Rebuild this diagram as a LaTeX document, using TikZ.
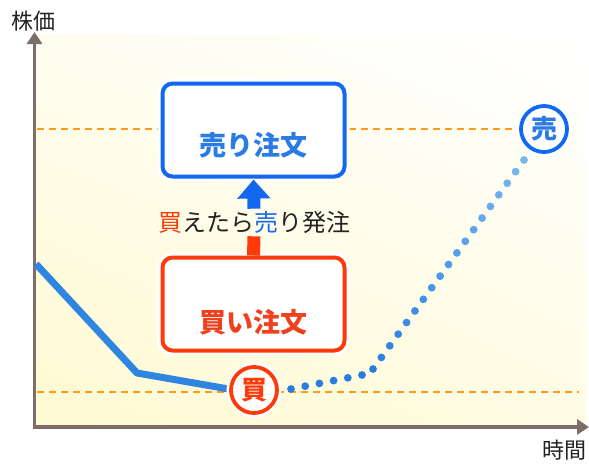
\documentclass[tikz,border=0pt]{standalone}
\usepackage{fontspec}
\newfontfamily\jp{Noto Sans CJK JP}
\usetikzlibrary{arrows.meta,calc,shadings}
\definecolor{axisc}{HTML}{7D6E69}
\definecolor{dashc}{HTML}{FF9A1A}
\definecolor{linec}{HTML}{2F86E0}
\definecolor{buyred}{HTML}{FF3A0A}
\definecolor{sellblue}{HTML}{1268F0}
\definecolor{selltext}{HTML}{2A7BE4}
\definecolor{buytext}{HTML}{F0401E}
\definecolor{dotA}{HTML}{2A7DE0}
\definecolor{dotB}{HTML}{7AB9F0}
\definecolor{bgy}{HTML}{FFFAD2}
\definecolor{bgw}{HTML}{FFFDF0}
\definecolor{txt}{HTML}{222222}
\tikzset{
  axisline/.style={draw=axisc, line width=3.2pt, -{Triangle[width=15pt,length=12pt]}},
  dashline/.style={draw=dashc, line width=1.8pt, dash pattern=on 7pt off 5pt},
  priceline/.style={draw=linec, line width=7pt, line join=round},
  boxbase/.style={rectangle, rounded corners=10pt, minimum width=182pt, minimum height=93pt, fill=white, line width=4pt,
    preaction={draw=white, line width=10pt}},
  sellbox/.style={boxbase, draw=sellblue},
  buybox/.style={boxbase, draw=buyred},
  boxtext/.style={font=\jp\bfseries\fontsize{27}{27}\selectfont, inner sep=0pt},
  markc/.style={circle, fill=white, line width=3.8pt, minimum size=46pt, inner sep=0pt,
    font=\jp\bfseries\fontsize{26}{26}\selectfont, preaction={draw=white, line width=9pt}},
  axlabel/.style={font=\jp\fontsize{22}{22}\selectfont, text=txt, inner sep=0pt},
  phrase/.style={font=\jp\fontsize{24}{24}\selectfont, text=txt, inner sep=1pt},
  uparrow/.style={draw=sellblue, line width=13pt, -{Triangle[width=32pt,length=19pt]}},
  redshaft/.style={draw=buyred, line width=13pt},
}
\begin{document}
\begin{tikzpicture}[x=1pt,y=-1pt]
\useasboundingbox (0,0) rectangle (589,464);
% background
\shade[upper left=bgw, upper right=white, lower left=bgy, lower right=bgy!60!white] (36,34) rectangle (586,426);
% axes
\coordinate (o) at (34.5,427);
\coordinate (ytip) at (34.5,32);
\coordinate (xtip) at (589,427);
\draw[axisline] ($(o)+(0,1.6)$) -- (ytip);
\draw[axisline] ($(o)+(-1.6,0)$) -- (xtip);
\node[axlabel] (ylab) at (33,21) {株価};
\node[axlabel] (xlab) at (564,450) {時間};
% dashed levels
\coordinate (hl0) at (37,129);
\coordinate (hl1) at (530,129);
\coordinate (ll0) at (37,392);
\coordinate (ll1) at (579,392);
\draw[dashline] (hl0) -- (hl1);
\draw[dashline] (ll0) -- (ll1);
% solid price line
\coordinate (p0) at (36,264);
\coordinate (p1) at (137,373);
\coordinate (p2) at (240,391);
\draw[priceline] (p0) -- (p1) -- (p2);
% dotted rise
\coordinate (d0) at (291,389);
\coordinate (d1) at (362,375);
\coordinate (d2) at (373,369);
\coordinate (d3) at (524,160);
\foreach \i in {0,...,5} \fill[dotA] ($(d0)!\i/5!(d1)$) circle (3.9pt);
\foreach \i in {0,...,18} {
  \pgfmathtruncatemacro\p{100-\i*100/18}
  \fill[dotA!\p!dotB] ($(d2)!\i/18!(d3)$) circle (3.9pt);
}
% markers
\node[markc, draw=buyred, text=buyred] (buyc) at (254,390) {買};
\node[markc, draw=sellblue, text=selltext] (sellc) at (544,129) {売};
% boxes
\node[sellbox] (sell) at (253.5,130) {};
\node[boxtext, text=selltext] (selllab) at ($(sell.center)+(0,15)$) {売り注文};
\node[buybox] (buy) at (253.5,304) {};
\node[boxtext, text=buytext] (buylab) at ($(buy.center)+(0,18)$) {買い注文};
% phrase and arrows
\node[phrase] (ph) at (254,222) {{\color{buyred}買}えたら{\color{sellblue}売}り発注};
\draw[uparrow] ($(ph.north)+(0,-1)$) -- ($(sell.south)+(0,1)$);
\draw[redshaft] ($(ph.south)+(0,2)$) -- (buy.north);
\end{tikzpicture}
\end{document}
